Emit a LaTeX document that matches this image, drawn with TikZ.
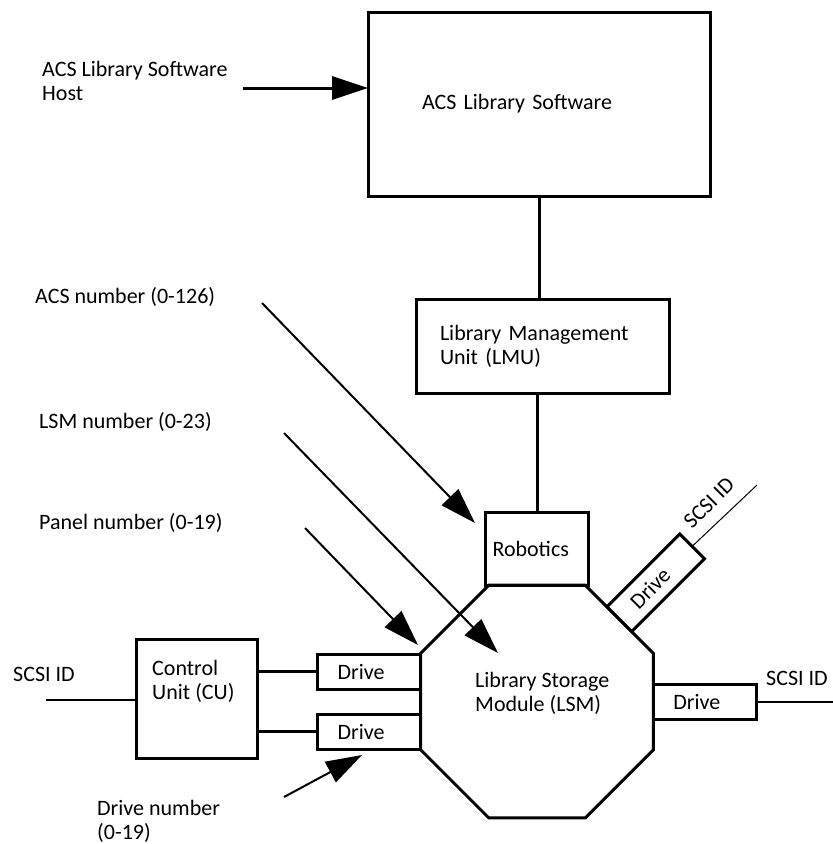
\documentclass[tikz,border=0pt]{standalone}
\usepackage{fontspec}
\setmainfont{Carlito}
\usetikzlibrary{arrows.meta,shapes.geometric,calc}

\tikzset{
  box/.style={draw, line width=3pt, inner sep=0pt, outer sep=0pt, align=left},
  drivebox/.style={draw, line width=3pt, text width=63pt, inner xsep=20pt,
    inner ysep=0pt, outer sep=0pt, minimum height=35pt, align=left},
  txt/.style={inner sep=0pt, align=left, anchor=base west},
  pointer/.style={line width=2pt, -{Triangle[length=36pt,width=23pt]}},
  wire/.style={line width=3pt},
  thinwire/.style={line width=2pt}
}

\begin{document}
\begin{tikzpicture}[x=1pt,y=-1pt,font=\fontsize{22}{24}\selectfont]
\useasboundingbox (0,0) rectangle (833,844);

% ----------------------------------------------------------
% Software, LMU and the storage module
% ----------------------------------------------------------
\node[box, text width=234pt, inner xsep=54pt, minimum height=184pt] (software) at (539,104) {ACS Library Software};
\node[box, text width=205pt, inner xsep=24pt, minimum height=94pt] (lmu) at (542.5,346) {Library Management\\Unit (LMU)};

\node[draw, line width=3pt, regular polygon, regular polygon sides=8,
      minimum size=252pt, inner sep=0pt, outer sep=0pt] (lsm) at (537,701.5) {};
\node[txt] (lsmtext) at (475,711) {Library Storage\\Module (LSM)};

\node[box, text width=89pt, inner xsep=7pt, minimum height=73pt, anchor=south] (robotics) at (lsm.north) {Robotics};

% ----------------------------------------------------------
% Drives
% ----------------------------------------------------------
\node[drivebox, anchor=east] (drive1) at ($(lsm.west)+(0,-30)$) {Drive};
\node[drivebox, anchor=east] (drive2) at ($(lsm.west)+(0,30)$) {Drive};
\node[drivebox, anchor=west] (drive3) at (lsm.east) {Drive};
\node[drivebox, anchor=west, rotate=45] (drive4) at (lsm.45) {Drive};

% ----------------------------------------------------------
% Control unit
% ----------------------------------------------------------
\node[box, minimum width=121pt, minimum height=119pt] (cu) at (196.5,698.5) {};
\node[txt] (cutext) at (152,699) {Control\\Unit (CU)};

% ----------------------------------------------------------
% Labels
% ----------------------------------------------------------
\node[txt] (hostlabel) at (42,100) {ACS Library Software\\Host};
\node[txt] (acsnum) at (35,303) {ACS number (0-126)};
\node[txt] (lsmnum) at (39,428) {LSM number (0-23)};
\node[txt] (panelnum) at (39,529) {Panel number (0-19)};
\node[txt] (drivenum) at (97,839) {Drive number\\(0-19)};
\node[txt] (scsicu) at (13,681) {SCSI ID};
\node[txt] (scsiright) at (766,685) {SCSI ID};
\node[inner sep=0pt, rotate=45] (scsiangled) at (709,503) {SCSI ID};

% ----------------------------------------------------------
% Free ends of the connectors
% ----------------------------------------------------------
\coordinate (hostfrom) at (243,88);
\coordinate (acsfrom) at (262,303);
\coordinate (acsto) at (475,523);
\coordinate (lsmfrom) at (284,433);
\coordinate (lsmto) at (498,653);
\coordinate (panelfrom) at (305,528);
\coordinate (panelto) at (418,645);
\coordinate (drivefrom) at (284,797);
\coordinate (driveto) at (362,755);
\coordinate (scsiin) at (46,700);
\coordinate (scsiout) at (833,702);
\coordinate (scsiup) at (757,485);

% ----------------------------------------------------------
% Connectors
% ----------------------------------------------------------
\draw[pointer, line width=3pt] (hostfrom) -- (hostfrom -| software.west);
\draw[wire] (software.south) -- (software.south |- lmu.north);
\draw[wire] (lmu.south -| robotics.north) -- (robotics.north);

\foreach \from/\to in {acsfrom/acsto, lsmfrom/lsmto, panelfrom/panelto, drivefrom/driveto} {
    \draw[pointer] (\from) -- (\to);
}

\draw[wire] (drive1.west -| cu.east) -- (drive1.west);
\draw[wire] (drive2.west -| cu.east) -- (drive2.west);
\draw[thinwire] (scsiin) -- (scsiin -| cu.west);
\draw[thinwire] (drive3.east) -- (drive3.east -| scsiout);
\draw[line width=1pt] (drive4.east) -- (scsiup);

\end{tikzpicture}
\end{document}
